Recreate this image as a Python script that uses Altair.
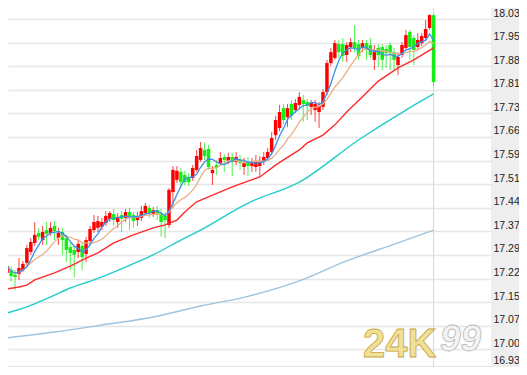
import altair as alt
import pandas as pd

# ---- candle data ----
open_ = [17.241, 17.250, 17.235, 17.238, 17.250, 17.272, 17.306, 17.334, 17.365, 17.343,
         17.374, 17.365, 17.387, 17.349, 17.368, 17.349, 17.321, 17.312, 17.306, 17.325,
         17.300, 17.340, 17.374, 17.381, 17.384, 17.396, 17.409, 17.424, 17.399, 17.421,
         17.412, 17.430, 17.421, 17.405, 17.412, 17.427, 17.443, 17.424, 17.436, 17.427,
         17.418, 17.390, 17.492, 17.530, 17.555, 17.545, 17.539, 17.536, 17.561, 17.592,
         17.623, 17.626, 17.551, 17.576, 17.582, 17.601, 17.589, 17.601, 17.586, 17.592,
         17.570, 17.586, 17.573, 17.570, 17.573, 17.589, 17.598, 17.617, 17.669, 17.691,
         17.753, 17.725, 17.766, 17.747, 17.763, 17.778, 17.772, 17.757, 17.747, 17.741,
         17.757, 17.803, 17.893, 17.909, 17.952, 17.952, 17.918, 17.943, 17.958, 17.952,
         17.940, 17.955, 17.949, 17.903, 17.940, 17.943, 17.937, 17.949, 17.927, 17.887,
         17.918, 17.940, 17.990, 17.971, 17.943, 17.955, 17.971, 18.002, 18.042]
close = [17.262, 17.231, 17.228, 17.256, 17.269, 17.318, 17.337, 17.359, 17.353, 17.368,
         17.362, 17.381, 17.371, 17.365, 17.343, 17.312, 17.303, 17.297, 17.331, 17.290,
         17.343, 17.377, 17.399, 17.402, 17.399, 17.418, 17.427, 17.405, 17.415, 17.409,
         17.430, 17.418, 17.402, 17.418, 17.433, 17.449, 17.427, 17.436, 17.424, 17.399,
         17.405, 17.499, 17.561, 17.558, 17.523, 17.523, 17.523, 17.567, 17.604, 17.629,
         17.604, 17.570, 17.561, 17.567, 17.598, 17.592, 17.601, 17.586, 17.601, 17.582,
         17.582, 17.573, 17.582, 17.589, 17.589, 17.601, 17.617, 17.660, 17.716, 17.741,
         17.716, 17.753, 17.729, 17.769, 17.788, 17.766, 17.760, 17.769, 17.766, 17.760,
         17.803, 17.893, 17.927, 17.955, 17.927, 17.915, 17.949, 17.958, 17.940, 17.915,
         17.955, 17.934, 17.918, 17.927, 17.918, 17.903, 17.924, 17.927, 17.903, 17.912,
         17.949, 17.980, 17.943, 17.934, 17.965, 17.977, 17.999, 18.042, 17.834]
high = [17.275, 17.262, 17.250, 17.287, 17.278, 17.328, 17.349, 17.399, 17.381, 17.387,
        17.399, 17.399, 17.402, 17.381, 17.381, 17.359, 17.337, 17.325, 17.343, 17.334,
        17.353, 17.387, 17.421, 17.418, 17.412, 17.433, 17.433, 17.440, 17.427, 17.433,
        17.440, 17.443, 17.430, 17.430, 17.449, 17.458, 17.452, 17.446, 17.449, 17.440,
        17.430, 17.505, 17.573, 17.573, 17.567, 17.558, 17.551, 17.576, 17.623, 17.648,
        17.645, 17.638, 17.573, 17.592, 17.617, 17.610, 17.614, 17.614, 17.617, 17.607,
        17.598, 17.601, 17.598, 17.607, 17.604, 17.617, 17.629, 17.679, 17.729, 17.763,
        17.766, 17.766, 17.778, 17.781, 17.803, 17.794, 17.781, 17.778, 17.778, 17.772,
        17.812, 17.903, 17.940, 17.965, 17.965, 17.971, 17.958, 17.971, 18.011, 17.965,
        17.965, 17.965, 17.971, 17.949, 17.952, 17.952, 17.949, 17.958, 17.940, 17.927,
        17.958, 17.996, 17.996, 17.980, 17.986, 17.986, 18.027, 18.045, 18.045]
low = [17.194, 17.213, 17.188, 17.219, 17.244, 17.266, 17.297, 17.325, 17.343, 17.328,
       17.328, 17.356, 17.343, 17.328, 17.297, 17.275, 17.250, 17.228, 17.287, 17.250,
       17.275, 17.328, 17.365, 17.368, 17.374, 17.387, 17.399, 17.387, 17.381, 17.368,
       17.399, 17.374, 17.381, 17.387, 17.402, 17.418, 17.412, 17.415, 17.405, 17.353,
       17.349, 17.381, 17.443, 17.520, 17.511, 17.514, 17.511, 17.527, 17.555, 17.586,
       17.592, 17.561, 17.514, 17.545, 17.573, 17.555, 17.579, 17.542, 17.576, 17.561,
       17.545, 17.542, 17.555, 17.555, 17.539, 17.576, 17.592, 17.607, 17.654, 17.682,
       17.704, 17.694, 17.716, 17.738, 17.753, 17.710, 17.716, 17.732, 17.710, 17.691,
       17.747, 17.794, 17.884, 17.903, 17.909, 17.896, 17.896, 17.927, 17.927, 17.903,
       17.927, 17.903, 17.909, 17.871, 17.881, 17.871, 17.878, 17.871, 17.871, 17.856,
       17.909, 17.934, 17.903, 17.887, 17.934, 17.946, 17.965, 17.996, 17.821]

# ---- longer moving averages (at sample bars) ----
ma20_idx = [0, 3, 5, 7, 12, 16, 20, 23, 27, 32, 37, 40, 43, 45, 48, 57, 64, 68, 70, 74,
            76, 80, 83, 86, 90, 94, 99, 103, 108]
ma20_val = [17.191, 17.197, 17.203, 17.219, 17.241, 17.262, 17.287, 17.303, 17.334, 17.359,
            17.381, 17.390, 17.405, 17.430, 17.462, 17.508, 17.539, 17.576, 17.592, 17.623,
            17.645, 17.669, 17.701, 17.741, 17.788, 17.837, 17.878, 17.903, 17.940]
ma60_idx = [0, 5, 12, 16, 22, 33, 37, 44, 49, 61, 74, 89, 101, 108]
ma60_val = [17.116, 17.135, 17.172, 17.194, 17.219, 17.275, 17.297, 17.343, 17.374, 17.458,
            17.523, 17.654, 17.747, 17.797]
ma120_idx = [0, 12, 24, 37, 49, 61, 74, 86, 99, 108]
ma120_val = [17.039, 17.057, 17.079, 17.104, 17.138, 17.168, 17.216, 17.278, 17.334, 17.374]

y_ticks = [16.93, 17.0033, 17.0767, 17.15, 17.2233, 17.2967, 17.37, 17.4433, 17.5167,
           17.59, 17.6633, 17.7367, 17.81, 17.8833, 17.9567, 18.03]
current_bar = [108]
watermark_a = ["24K"]
watermark_b = ["99"]

n = len(close)
df = pd.DataFrame({"i": list(range(n)), "open": open_, "high": high, "low": low, "close": close})
df["dir"] = ["up" if c >= o else "down" for o, c in zip(open_, close)]

W, H = 483, 359
xs = alt.Scale(domain=[1.488, 121.28], nice=False, zero=False)
# piecewise: 1:1 above 17.00, slightly squeezed bottom strip so 16.93 stays visible
ys = alt.Scale(domain=[16.93, 17.0, 18.0642], range=[358, 342.4, 0], nice=False, zero=False)
X = alt.X("i:Q", scale=xs, axis=None)
yaxis = alt.Axis(orient="right", values=y_ticks,
                 labelExpr="format(floor(datum.value*100+0.001)/100, '.2f')",
                 grid=True, gridColor="#e6e6e6", gridWidth=1.5, ticks=False, domain=False,
                 labelPadding=2, labelFont="Liberation Sans", labelFontSize=10.5,
                 labelColor="#222222", labelOffset=-6, title=None)


def Y(field):
    return alt.Y(field, type="quantitative", scale=ys, axis=yaxis)


col = alt.Color("dir:N", scale=alt.Scale(domain=["up", "down"], range=["#ff0000", "#14ee14"]),
                legend=None)

vline = alt.Chart(pd.DataFrame({"i": current_bar})).mark_rule(
    color="#d6d6d6", strokeWidth=1).encode(x=X)

wicks = alt.Chart(df).mark_rule(strokeWidth=1, opacity=0.75, clip=True).encode(
    x=X, y=Y("low"), y2="high", color=col)
bodies = alt.Chart(df).mark_bar(size=3.5, clip=True).encode(
    x=X, y=Y("open"), y2="close", color=col)

ma20 = alt.Chart(pd.DataFrame({"i": ma20_idx, "v": ma20_val})).mark_line(
    color="#ff2a2a", strokeWidth=1.4, clip=True).encode(x=X, y=Y("v"))
ma60 = alt.Chart(pd.DataFrame({"i": ma60_idx, "v": ma60_val})).mark_line(
    color="#22cccc", strokeWidth=1.4, clip=True, interpolate="monotone").encode(x=X, y=Y("v"))
ma120 = alt.Chart(pd.DataFrame({"i": ma120_idx, "v": ma120_val})).mark_line(
    color="#9ec4de", strokeWidth=1.4, clip=True, interpolate="monotone").encode(x=X, y=Y("v"))

ma10 = alt.Chart(df).transform_window(
    ma10="mean(close)", frame=[-9, 0], sort=[alt.SortField("i")]
).mark_line(color="#e8b084", strokeWidth=1.3, clip=True).encode(x=X, y=Y("ma10:Q"))
ma5 = alt.Chart(df).transform_window(
    ma5="mean(close)", frame=[-4, 0], sort=[alt.SortField("i")]
).mark_line(color="#3c8ee8", strokeWidth=1.3, clip=True).encode(x=X, y=Y("ma5:Q"))

wm1 = alt.Chart(pd.DataFrame({"t": watermark_a})).mark_text(
    font="Liberation Sans", fontWeight="bold", fontSize=40, fill="#f0e09a",
    stroke="#c9a640", strokeWidth=0.8, align="left", baseline="alphabetic"
).encode(x=alt.value(355), y=alt.value(349), text="t:N")
wm2 = alt.Chart(pd.DataFrame({"t": watermark_b})).mark_text(
    font="Liberation Sans", fontWeight="bold", fontStyle="italic", fontSize=37,
    fill="#f3f3f3", stroke="#b8b8b8", strokeWidth=0.8, align="left", baseline="alphabetic"
).encode(x=alt.value(432), y=alt.value(343), text="t:N")

chart = alt.layer(vline, ma120, ma60, wicks, bodies, ma20, ma10, ma5, wm1, wm2).properties(
    width=W, height=H,
    autosize=alt.AutoSizeParams(type="none"),
    padding={"left": 0, "right": 28, "top": 0, "bottom": 0},
    background="#eeeeee",
).configure_view(fill="white", strokeWidth=0)

chart.save("out.html", embed_options={"renderer": "svg", "actions": False})
